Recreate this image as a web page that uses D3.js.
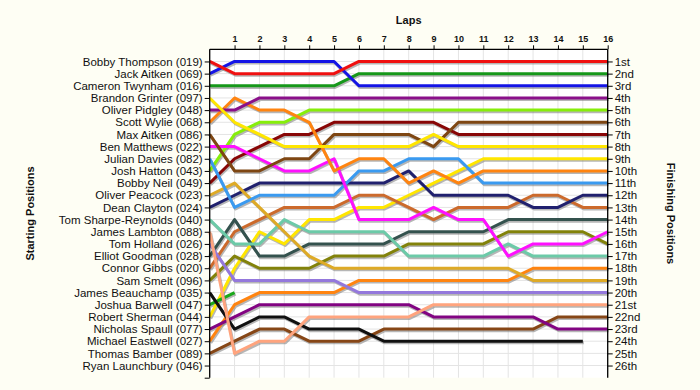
<!DOCTYPE html>
<html>
<head>
<meta charset="utf-8">
<script src="https://cdn.jsdelivr.net/npm/d3@7"></script>
<style>
  html, body { margin: 0; padding: 0; background: #fefef4; }
  svg { display: block; font-family: Arial, "Liberation Sans", sans-serif; }
</style>
</head>
<body>
<svg id="chart" width="700" height="390"></svg>
<script>
const laps = d3.range(0, 17);
const lapTickLabels = ["1","2","3","4","5","6","7","8","9","10","11","12","13","14","15","16"];

const drivers = [
  "Bobby Thompson (019)", "Jack Aitken (069)", "Cameron Twynham (016)", "Brandon Grinter (097)",
  "Oliver Pidgley (048)", "Scott Wylie (068)", "Max Aitken (086)", "Ben Matthews (022)",
  "Julian Davies (082)", "Josh Hatton (043)", "Bobby Neil (049)", "Oliver Peacock (023)",
  "Dean Clayton (024)", "Tom Sharpe-Reynolds (040)", "James Lambton (088)", "Tom Holland (026)",
  "Elliot Goodman (028)", "Connor Gibbs (020)", "Sam Smelt (096)", "James Beauchamp (035)",
  "Joshua Barwell (047)", "Robert Sherman (044)", "Nicholas Spaull (077)", "Michael Eastwell (027)",
  "Thomas Bamber (089)", "Ryan Launchbury (046)"
];

const colors = [
  "#f01010", "#1414e6", "#16981a", "#ffe600",
  "#8a108a", "#ff8410", "#7e4612", "#ff10ff",
  "#3a9af0", "#86ee0a", "#880606", "#deaa26",
  "#20206e", "#6ccaa8", "#ffa47e", "#9478dc",
  "#34524e", "#cc6a2c", "#82820a", "#101010",
  "#1aa81a", "#ffe600", "#820482", "#ff8410",
  "#864616", "#999999"
];

// positions per lap (lap 0 .. last lap completed)
const positions = [
  [1,2,2,2,2,2,1,1,1,1,1,1,1,1,1,1,1],
  [2,1,1,1,1,1,3,3,3,3,3,3,3,3,3,3,3],
  [3,3,3,3,3,3,2,2,2,2,2,2,2,2,2,2,2],
  [4,6,7,8,8,8,8,8,8,7,8,8,8,8,8,8,8],
  [5,5,4,4,4,4,4,4,4,4,4,4,4,4,4,4,4],
  [6,4,5,5,6,10,9,9,11,10,11,10,10,10,10,10,10],
  [7,10,10,9,9,7,7,7,7,8,6,6,6,6,6,6,6],
  [8,8,9,10,10,9,14,14,14,13,14,14,17,16,16,16,15],
  [9,13,12,12,12,12,10,10,9,9,9,11,11,11,11,11,11],
  [10,7,6,6,5,5,5,5,5,5,5,5,5,5,5,5,5],
  [11,9,8,7,7,6,6,6,6,6,7,7,7,7,7,7,7],
  [12,11,13,15,17,18,18,18,18,18,18,18,18,19,19,19,19],
  [13,12,11,11,11,11,11,11,10,12,12,12,12,13,13,12,12],
  [14,16,16,14,15,15,15,15,17,17,17,17,16,17,17,17,17],
  [15,25,24,24,22,22,22,22,22,21,21,21,21,21,21,21,21],
  [16,19,19,19,19,19,20,20,20,20,20,20,20,20,20,20,20],
  [17,14,17,17,16,16,16,16,15,15,15,15,14,14,14,14,14],
  [18,15,14,13,13,13,12,12,13,14,13,13,13,12,12,13,13],
  [19,17,18,18,18,17,17,17,16,16,16,16,15,15,15,15,16],
  [20,23,22,22,23,23,23,24,24,24,24,24,24,24,24,24],
  [21,20],
  [22,18,15,16,14,14,13,13,12,11,10,9,9,9,9,9,9],
  [23,22,21,21,21,21,21,21,21,22,22,22,22,22,23,23,23],
  [24,21,20,20,20,20,19,19,19,19,19,19,19,18,18,18,18],
  [25,24,23,23,24,24,24,23,23,23,23,23,23,23,22,22,22],
  []
];

const finishLabels = d3.range(1, 27).map(n => {
  const s = ["th","st","nd","rd"], v = n % 100;
  return n + (s[(v - 20) % 10] || s[v] || s[0]);
});

const svg = d3.select("#chart");
const pLeft = 209.7, pRight = 607.7, pTop = 49.3, pBottom = 377.7;

const x = d3.scaleLinear().domain([0, 16]).range([pLeft, pRight]);
const y = d3.scaleLinear().domain([0, 27]).range([pTop, pBottom]);

// plot background
svg.append("rect").attr("x", pLeft).attr("y", pTop)
  .attr("width", pRight - pLeft).attr("height", pBottom - pTop).attr("fill", "#ffffff");

// grid
const grid = svg.append("g").attr("stroke", "#e4e4e4").attr("stroke-width", 1);
laps.forEach(l => grid.append("line")
  .attr("x1", x(l)).attr("x2", x(l)).attr("y1", pTop).attr("y2", pBottom));
d3.range(1, 27).forEach(p => grid.append("line")
  .attr("x1", pLeft).attr("x2", pRight).attr("y1", y(p)).attr("y2", y(p)));

// lines
const line = d3.line().x((d, i) => x(i)).y(d => y(d));
const series = positions.map((p, i) => ({ name: drivers[i], color: colors[i], pos: p }))
  .filter(s => s.pos.length > 1);

const shadowG = svg.append("g").attr("transform", "translate(1,1.6)");
shadowG.selectAll("path").data(series).join("path")
  .attr("d", d => line(d.pos))
  .attr("fill", "none").attr("stroke", "#7a7a7a").attr("stroke-opacity", 0.55)
  .attr("stroke-width", 3).attr("stroke-linejoin", "round");

svg.append("g").selectAll("path").data(series.slice().reverse()).join("path")
  .attr("d", d => line(d.pos))
  .attr("fill", "none").attr("stroke", d => d.color)
  .attr("stroke-width", 3).attr("stroke-linejoin", "round");

// axes
const leftAxis = d3.axisLeft(y).tickValues(d3.range(1, 28))
  .tickFormat(d => d <= 26 ? drivers[d - 1] : "").tickSize(5).tickPadding(2);
const gl = svg.append("g").attr("transform", `translate(${pLeft},0)`).call(leftAxis);

const rightAxis = d3.axisRight(y).tickValues(d3.range(1, 27))
  .tickFormat(d => finishLabels[d - 1]).tickSize(5).tickPadding(2);
const gr = svg.append("g").attr("transform", `translate(${pRight},0)`).call(rightAxis);

const topAxis = d3.axisTop(x).tickValues(d3.range(1, 17))
  .tickFormat((d, i) => lapTickLabels[i]).tickSize(4).tickPadding(3);
const gt = svg.append("g").attr("transform", `translate(0,${pTop})`).call(topAxis);

[gl, gr, gt].forEach(g => {
  g.select(".domain").attr("stroke", "#000").attr("stroke-width", 1.3);
  g.selectAll(".tick line").attr("stroke", "#000");
  g.selectAll("text").attr("fill", "#111").attr("font-family", "Arial, 'Liberation Sans', sans-serif");
});
gl.select(".domain").attr("d", `M0,${pTop}V${pBottom}`);
gr.select(".domain").attr("d", `M0,${pTop}V${pBottom}`);
gt.select(".domain").attr("d", `M${pLeft},0H${pRight}`);
gl.selectAll("text").attr("font-size", 11.5);
gr.selectAll("text").attr("font-size", 11.5);
gt.selectAll("text").attr("font-size", 9).attr("font-weight", "bold");

// titles
svg.append("text").attr("x", (pLeft + pRight) / 2).attr("y", 24)
  .attr("text-anchor", "middle").attr("font-size", 11).attr("font-weight", "bold")
  .attr("fill", "#111").text("Laps");
svg.append("text").attr("transform", `translate(34,${(pTop + pBottom) / 2}) rotate(-90)`)
  .attr("text-anchor", "middle").attr("font-size", 11).attr("font-weight", "bold")
  .attr("fill", "#111").text("Starting Positions");
svg.append("text").attr("transform", `translate(667,${(pTop + pBottom) / 2}) rotate(90)`)
  .attr("text-anchor", "middle").attr("font-size", 11).attr("font-weight", "bold")
  .attr("fill", "#111").text("Finishing Positions");
</script>
</body>
</html>
